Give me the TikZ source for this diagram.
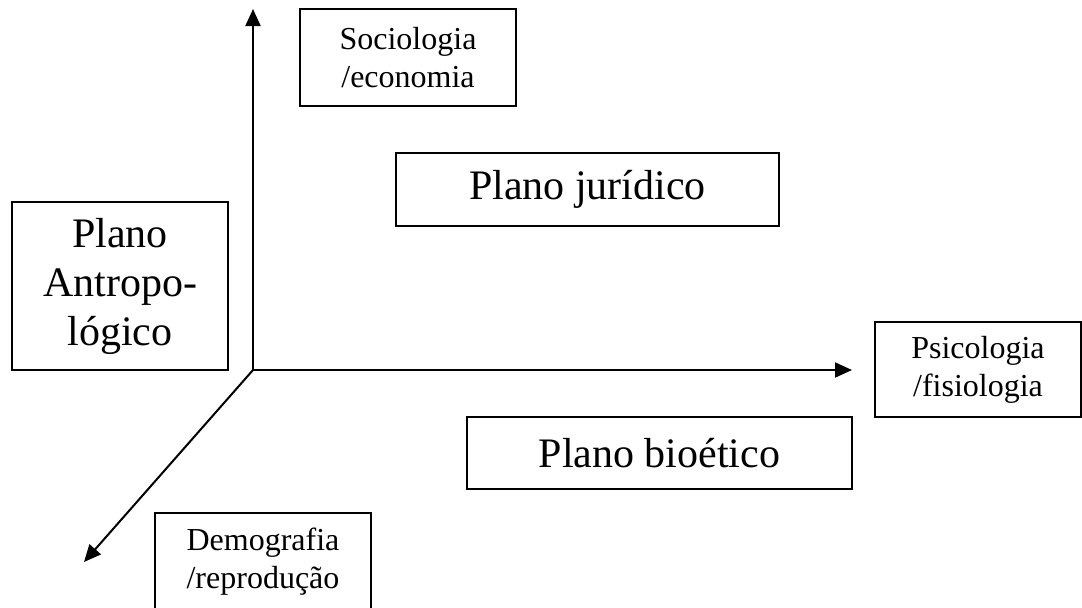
\documentclass[tikz,border=0pt]{standalone}
\usepackage{fontspec}
\setmainfont{Liberation Serif}
\usetikzlibrary{arrows.meta}

\begin{document}
\begin{tikzpicture}[x=0.5pt,y=-0.5pt,
    axis/.style={line width=1pt,-{Triangle[length=8.5pt,width=7.5pt]}},
    plano/.style={draw,line width=1pt,inner sep=0pt,align=center,
      font=\fontsize{21}{24.5}\selectfont},
    campo/.style={draw,line width=1pt,inner sep=0pt,align=center,
      minimum width=108pt,minimum height=48.5pt,
      font=\fontsize{16}{19}\selectfont}]
    \useasboundingbox (0,0) rectangle (1082,607);
    \coordinate (o) at (253,370);
    \coordinate (up) at (253,9);
    \coordinate (right) at (852,370);
    \coordinate (down) at (84,562);
    \draw[axis] (o) -- (up);
    \draw[axis] (o) -- (right);
    \draw[axis] (o) -- (down);
    \node[campo] (soc) at (408,57.5) {Sociologia\\/economia};
    \node[campo,minimum width=103pt,minimum height=47.5pt] (psi) at (978,369.5) {Psicologia\\/fisiologia};
    \node[campo] (demo) at (263,561.5) {Demografia\\/reprodução};
    \node[plano,minimum width=191.5pt,minimum height=36.5pt] (jur) at (587.5,189.5) {Plano jurídico};
    \node[plano,minimum width=192.5pt,minimum height=36pt] (bio) at (659.5,453) {Plano bioético};
    \node[plano,minimum width=108pt,minimum height=84pt] (antro) at (120,286) {Plano\\Antropo-\\lógico};
\end{tikzpicture}
\end{document}
